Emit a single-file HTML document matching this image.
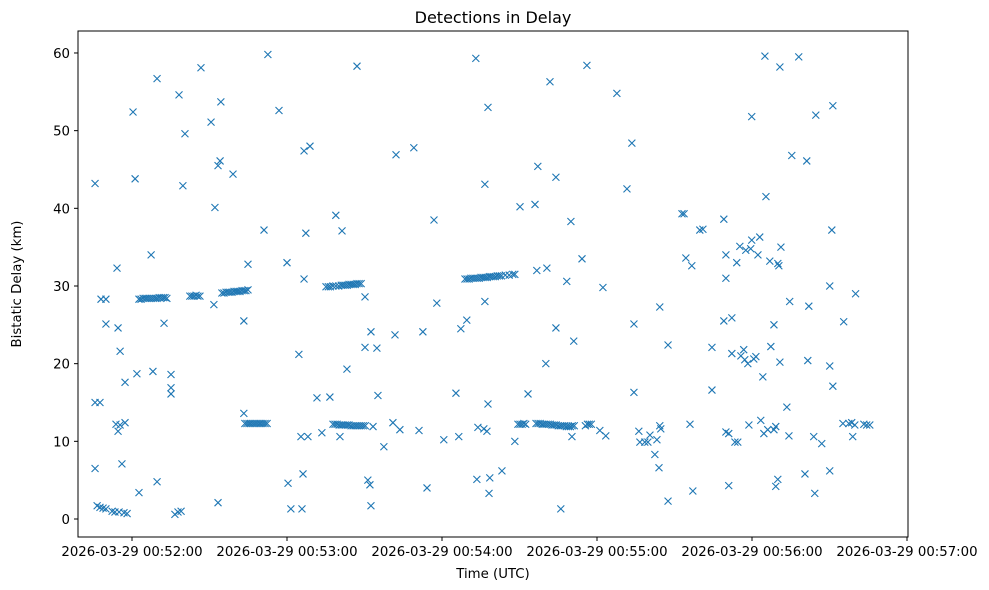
<!DOCTYPE html>
<html><head><meta charset="utf-8"><style>
body{margin:0;background:#fff;}
svg{display:block;font-family:"DejaVu Sans","Liberation Sans",sans-serif;}
</style></head><body>
<svg id="chart" width="989" height="590">
<rect width="989" height="590" fill="#fff"/>
<text x="493" y="23" font-size="16" text-anchor="middle">Detections in Delay</text>
<text x="493" y="578" font-size="13.3" text-anchor="middle">Time (UTC)</text>
<text transform="translate(21,284) rotate(-90)" font-size="13.3" text-anchor="middle">Bistatic Delay (km)</text>
<g id="ticks"></g>
<g id="marks"></g>
<rect x="78" y="31" width="830" height="506" fill="none" stroke="#000" stroke-width="1"/>
</svg>
<script>
// time in seconds since 2026-03-29 00:51:00 UTC
const times = [45.7,45.7,45.7,47.6,46.5,47.6,48.8,49.9,48,49.9,49.9,52.3,53.4,55,56.9,58.1,54.2,54.6,55.4,53.8,54.6,55.4,57.3,56.1,57.3,60.4,61.2,61.9,62.7,67.4,68.1,69.7,69.7,72.4,75.1,75.1,75.1,76.6,77.8,79,78.2,79.7,80.5,86.7,90.6,91.7,92.1,93.3,94.1,94.4,93.3,99.1,103.3,103.3,104.9,111.1,112.6,116.9,120,120.4,121.5,124.6,125.4,125.8,126.2,126.6,126.6,127.3,128.1,128.9,131.6,133.5,136.6,138.9,140.5,141.3,143.2,147.1,150.2,150.2,151.3,152.1,152.5,152.5,153.3,154.8,155.2,157.5,161,161.8,162.2,163.7,169.1,171.1,172.6,174.2,176.9,178,180.7,185.4,186.5,187.3,189.6,193.1,193.5,193.9,196.2,196.6,196.6,197.8,197.8,198.2,198.5,197.4,203.2,208.2,210.2,213.3,216,216.7,217.1,220.2,220.6,221.8,224.1,224.1,226,228.3,229.9,230.3,231,234.2,236.1,241.1,242.3,243.4,247.7,251.6,253.5,254.3,254.3,256.2,256.6,258.5,259.7,260.5,262.4,263.2,264,264.3,264.3,264.7,267.5,267.5,272.9,273.7,274.4,276.7,279.8,281,284.5,284.5,276,277.1,289.1,289.1,289.9,289.9,289.9,291,291,292.2,292.2,293.4,294.1,294.5,295.3,295.7,296.8,297.2,297.6,298.4,298.8,299.5,299.9,299.9,300.7,301.5,302.3,303,303.4,304.2,304.6,305,305.4,306.1,306.9,307.3,308.5,308.5,309.2,309.2,310,310.4,310.8,310.8,311.2,310,313.5,314.3,314.6,315.4,318.1,320.5,321.2,321.6,322,323.9,324.3,324.7,327,330.1,330.1,330.1,330.9,331.3,331.3,335.5,335.2,337.5,338.6,339,339.8,340.1,343.3,344.4,345.6,
62.7,63.5,64.3,65.1,65.8,66.6,67.4,68.2,69,69.7,70.5,71.3,72.1,72.8,73.5,
82.4,83.2,84,84.8,85.5,86.3,
94.8,95.6,96.4,97.2,97.9,98.7,99.5,100.3,101,101.8,102.6,103.4,104.1,104.9,
103.7,104.5,105.3,106,106.8,107.6,108.4,109.2,109.9,110.7,111.5,112.3,
135.1,136,136.8,137.8,138.9,140,141,141.7,142.5,143.3,144,144.8,145.6,146.4,147.1,147.9,148.7,
137.8,138.6,139.4,140.2,141,141.7,142.5,143.3,144,144.8,145.6,146.4,147.1,147.9,148.7,149.5,150.3,
188.9,189.7,190.5,191.2,192,192.8,193.6,194.4,195.1,195.9,196.7,197.5,198.3,199,199.8,200.6,201.4,202.2,203,204.5,206,207.4,208.2,
209.4,210.2,211,211.7,212.4,216.4,217.2,218,218.8,219.5,220.3,221.1,221.9,222.6,223.4,224.2,225,225.8,226.5,227.3,228.1,228.9,229.7,230.4,231.2,235.5,236.3,237,237.8];
const delays = [43.2,6.5,15,15,1.7,1.5,1.4,1.3,28.3,28.3,25.1,1.0,0.9,0.9,0.8,0.7,32.3,24.6,21.6,12.2,11.3,12.1,12.4,7.1,17.6,52.4,43.8,18.7,3.4,34,19,4.8,56.7,25.2,18.6,16.9,16.1,0.6,0.9,1.0,54.6,42.9,49.6,58.1,51.1,27.6,40.1,45.5,46.1,53.7,2.1,44.4,13.6,25.5,32.8,37.2,59.8,52.6,33,4.6,1.3,21.2,10.6,1.3,5.8,30.9,47.4,36.8,10.6,48,15.6,11.1,15.7,39.1,10.6,37.1,19.3,58.3,28.6,22.1,5.0,4.4,24.1,1.7,11.9,22,15.9,9.3,12.4,23.7,46.9,11.5,47.8,11.4,24.1,4.0,38.5,27.8,10.2,16.2,10.6,24.5,25.6,59.3,5.1,11.8,11.6,43.1,28,14.8,53,3.3,5.3,11.3,6.2,10,40.2,16.1,40.5,32,45.4,20,32.3,56.3,44,24.6,1.3,30.6,38.3,10.6,22.9,33.5,58.4,11.4,29.8,10.7,54.8,42.5,48.4,16.3,25.1,11.3,9.9,9.9,9.9,10.8,8.3,10.2,6.6,27.3,12.0,11.6,22.4,2.3,39.3,39.3,33.6,32.6,37.2,37.3,22.1,16.6,12.2,3.6,38.6,25.5,34,31,11.2,11,4.3,25.9,21.3,9.9,33,9.9,35.1,21,21.8,20.5,34.6,20,12.1,34.8,35.9,51.8,20.6,20.9,34,36.3,12.7,18.3,11,59.6,41.5,11.5,33.2,22.2,25,11.5,4.2,11.9,5.1,32.6,58.2,20.2,35,32.9,14.4,10.7,28,46.8,59.5,5.8,46.1,20.4,27.4,10.6,3.3,52,9.7,6.2,30,19.7,37.2,17.1,53.2,25.4,12.3,12.3,12.4,10.6,12.1,29,12.2,12.1,12.1,
28.3,28.3,28.4,28.4,28.4,28.4,28.4,28.4,28.4,28.4,28.5,28.5,28.5,28.5,28.4,
28.7,28.7,28.7,28.8,28.7,28.7,
29.1,29.1,29.2,29.2,29.2,29.2,29.3,29.3,29.3,29.3,29.4,29.4,29.4,29.5,
12.3,12.3,12.3,12.3,12.3,12.3,12.3,12.3,12.3,12.3,12.3,12.3,
29.9,29.9,29.9,30,30,30,30.1,30.1,30.1,30.1,30.2,30.2,30.2,30.2,30.3,30.3,30.3,
12.2,12.2,12.2,12.1,12.1,12.1,12.1,12.1,12.1,12.0,12.0,12.0,12.0,12.0,12.0,12.0,12.0,
30.9,30.9,30.9,31,31,31,31,31,31.1,31.1,31.1,31.1,31.2,31.2,31.2,31.2,31.3,31.3,31.3,31.4,31.4,31.5,31.5,
12.2,12.2,12.2,12.3,12.2,12.3,12.3,12.3,12.2,12.2,12.2,12.2,12.2,12.1,12.1,12.1,12.0,12.0,12.0,12.0,11.9,11.9,11.9,12.0,12.0,12.0,12.2,12.2,12.2,12.1];
const xTickSeconds = [60,120,180,240,300,360];
const xTickLabels = ["2026-03-29 00:52:00","2026-03-29 00:53:00","2026-03-29 00:54:00","2026-03-29 00:55:00","2026-03-29 00:56:00","2026-03-29 00:57:00"];
const yTicks = [0,10,20,30,40,50,60];

const NS="http://www.w3.org/2000/svg";
function xScale(s){return 132+(s-60)*2.5833;}
function yScale(v){return 519-v*7.767;}
const tg=document.getElementById('ticks');
xTickSeconds.forEach((s,i)=>{
  const x=xScale(s);
  const l=document.createElementNS(NS,'line');
  l.setAttribute('x1',x);l.setAttribute('x2',x);l.setAttribute('y1',537);l.setAttribute('y2',541);l.setAttribute('stroke','#000');
  
  
  tg.appendChild(l);
  const t=document.createElementNS(NS,'text');
  t.setAttribute('x',x);t.setAttribute('y',556);t.setAttribute('font-size','13.3');t.setAttribute('text-anchor','middle');
  t.textContent=xTickLabels[i];
  
  
  tg.appendChild(t);
});
yTicks.forEach(v=>{
  const y=yScale(v);
  const l=document.createElementNS(NS,'line');
  l.setAttribute('x1',74);l.setAttribute('x2',78);l.setAttribute('y1',y);l.setAttribute('y2',y);l.setAttribute('stroke','#000');
  
  
  tg.appendChild(l);
  const t=document.createElementNS(NS,'text');
  t.setAttribute('x',70);t.setAttribute('y',y+5);t.setAttribute('font-size','13.3');t.setAttribute('text-anchor','end');
  t.textContent=String(v);
  
  
  tg.appendChild(t);
});
const mg=document.getElementById('marks');
const n=Math.min(times.length,delays.length);
for(let i=0;i<n;i++){
  const x=xScale(times[i]),y=yScale(delays[i]),r=3.5;
  const p=document.createElementNS(NS,'path');
  p.setAttribute('d',`M${x-r},${y-r}L${x+r},${y+r}M${x-r},${y+r}L${x+r},${y-r}`);
  p.setAttribute('stroke','#1f77b4');p.setAttribute('stroke-width','1.1');p.setAttribute('fill','none');
  
  
  mg.appendChild(p);
}
</script>
</body></html>
